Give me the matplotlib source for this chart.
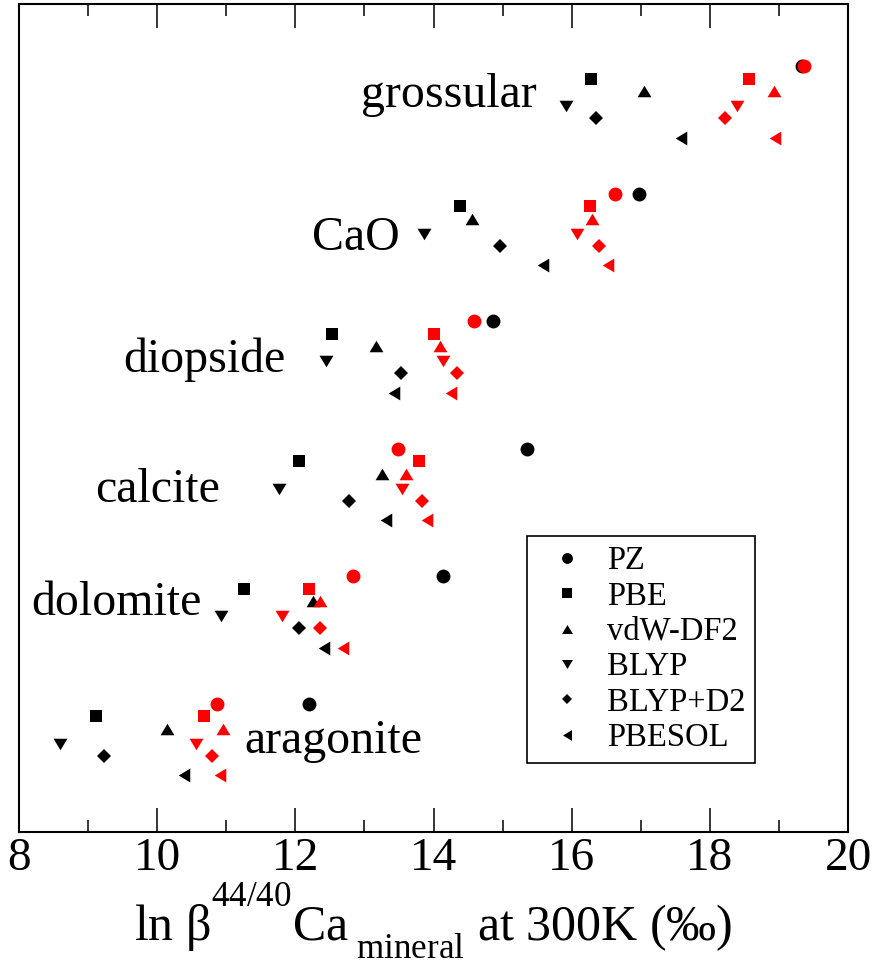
import matplotlib
matplotlib.use("Agg")
import matplotlib.pyplot as plt
from matplotlib.path import Path
from matplotlib.ticker import MultipleLocator
import matplotlib._mathtext as mathtext_internal

plt.rcParams['font.family'] = ['Liberation Serif', 'DejaVu Serif']
plt.rcParams['mathtext.fontset'] = 'custom'
plt.rcParams['mathtext.rm'] = 'Liberation Serif'
plt.rcParams['mathtext.it'] = 'Liberation Serif:italic'
# grace-style scripts sit further from the baseline
mathtext_internal.FontConstantsBase.sup1 = 1.5
mathtext_internal.FontConstantsBase.sub1 = 0.8

# minerals, bottom to top (one row each)
minerals = ['aragonite', 'dolomite', 'calcite', 'diopside', 'CaO', 'grossular']
rows = [1, 2, 3, 4, 5, 6]
functionals = ['PZ', 'PBE', 'vdW-DF2', 'BLYP', 'BLYP+D2', 'PBESOL']
# small vertical stagger of each functional inside a row
stagger = [0.0, -0.098, -0.194, -0.311, -0.405, -0.557]

# ln beta values (permil), black set
black_pz = [12.20, 14.14, 15.35, 14.86, 16.97, 19.33]
black_pbe = [9.11, 11.26, 12.05, 12.53, 14.38, 16.28]
black_vdw = [10.14, 12.25, 13.26, 13.17, 14.56, 17.05]
black_blyp = [8.59, 10.93, 11.76, 12.45, 13.86, 15.92]
black_d2 = [9.23, 12.05, 12.78, 13.53, 14.96, 16.35]
black_pbesol = [10.39, 12.41, 13.31, 13.43, 15.58, 17.58]

# red set
red_pz = [10.86, 12.83, 13.49, 14.58, 16.63, 19.37]
red_pbe = [10.68, 12.20, 13.79, 14.00, 16.26, 18.56]
red_vdw = [10.95, 12.36, 13.60, 14.09, 16.30, 18.93]
red_blyp = [10.56, 11.80, 13.55, 14.14, 16.08, 18.40]
red_d2 = [10.80, 12.36, 13.84, 14.34, 16.39, 18.22]
red_pbesol = [10.91, 12.69, 13.90, 14.25, 16.52, 18.95]

# mineral name positions (x, y in data units)
label_x = [11.26, 8.18, 9.10, 9.51, 12.24, 12.95]
label_y = [0.613, 1.698, 2.587, 3.606, 4.561, 5.685]


def tri(pts):
    return Path(pts + [pts[0]], closed=True)


tri_up = tri([(-1, -0.83), (1, -0.83), (0, 0.83)])
tri_down = tri([(-1, 0.83), (1, 0.83), (0, -0.83)])
tri_left = tri([(0.83, -1), (0.83, 1), (-0.83, 0)])

marks = [('o', 10), ('s', 8.4), (tri_up, 10), (tri_down, 10), ('D', 7.1), (tri_left, 10)]

black_sets = [black_pz, black_pbe, black_vdw, black_blyp, black_d2, black_pbesol]
red_sets = [red_pz, red_pbe, red_vdw, red_blyp, red_d2, red_pbesol]

fig = plt.figure(figsize=(8.77, 9.74), dpi=100)
ax = fig.add_axes([0.02166, 0.1463, 0.9453, 0.8501])

handles = []
for k in range(6):
    m, ms = marks[k]
    ys = [r + stagger[k] for r in rows]
    h, = ax.plot(black_sets[k], ys, ls='none', marker=m, ms=ms, mew=0,
                 color='black', label=functionals[k])
    handles.append(h)
for k in range(6):
    m, ms = marks[k]
    ys = [r + stagger[k] for r in rows]
    ax.plot(red_sets[k], ys, ls='none', marker=m, ms=ms, mew=0, color='red')

for name, x, y in zip(minerals, label_x, label_y):
    ax.text(x, y, name, fontsize=34.5, ha='left', va='baseline')

ax.set_xlim(8, 20)
ax.set_ylim(0, 6.494)
ax.xaxis.set_major_locator(MultipleLocator(2))
ax.xaxis.set_minor_locator(MultipleLocator(1))
ax.set_yticks([])
ax.tick_params(axis='x', which='both', direction='in', top=True, width=1.1,
               labelsize=34, pad=4)
ax.tick_params(axis='x', which='major', length=17.3)
ax.tick_params(axis='x', which='minor', length=8.6)
for s in ax.spines.values():
    s.set_linewidth(1.5)

ax.set_xlabel(r'ln β$^{\mathrm{44/40}}$Ca$_{\mathrm{\ mineral}}$ at 300K (‰)',
              fontsize=36, labelpad=1)

leg = ax.legend(handles=handles, loc='upper left', bbox_to_anchor=(0.613, 0.357),
                borderaxespad=0, fontsize=23.5, markerscale=0.78, frameon=True,
                fancybox=False, edgecolor='black', framealpha=1,
                borderpad=0.3, handlelength=1.85, handletextpad=0.3,
                labelspacing=0.15)
leg.get_frame().set_linewidth(1.2)

fig.savefig('out.png', dpi=100)
